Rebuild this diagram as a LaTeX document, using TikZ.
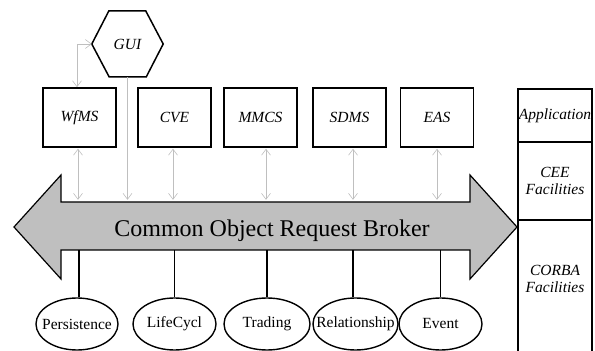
\documentclass[tikz,border=0pt]{standalone}
\usepackage{fontspec}
\setmainfont{Liberation Serif}
\usetikzlibrary{shapes.geometric,arrows.meta}
\newcommand{\lblfont}{\fontsize{15.5}{17}\selectfont}
\begin{document}
\begin{tikzpicture}[x=1pt,y=1pt,
  appbox/.style={draw, line width=1.5pt, minimum width=73, minimum height=59, inner sep=0, font=\lblfont\itshape},
  cell/.style={draw, line width=1.5pt, minimum width=74, inner sep=0, font=\lblfont\itshape, align=center},
  svc/.style={draw, ellipse, line width=1.4pt, minimum height=52, inner sep=0, font=\lblfont},
  garrow/.style={draw=black!25, line width=0.6pt, {Straight Barb[length=6pt,width=9pt]}-{Straight Barb[length=6pt,width=9pt]}},
  garrowone/.style={draw=black!25, line width=0.6pt, -{Straight Barb[length=6pt,width=9pt]}},
  stem/.style={draw, line width=1.7pt},
  broker/.style={draw, line width=1.2pt, fill=black!25, line join=miter}
]
\useasboundingbox (0,0) rectangle (595,351);

% broker double arrow
\draw[broker] (14,124) -- (61,176) -- (61,149) -- (470,149) -- (470,176) -- (517,124)
  -- (470,72) -- (470,101) -- (61,101) -- (61,72) -- cycle;
\node[minimum width=409, minimum height=48, inner sep=0] (shaft) at (265.5,125) {};
\node[anchor=base, font=\fontsize{24}{28}\selectfont, inner sep=0] (brokertext) at (272,114) {Common Object Request Broker};

% GUI hexagon
\node[minimum width=71, minimum height=66, inner sep=0, font=\lblfont\itshape] (GUI) at (127.5,307) {GUI};
\draw[line width=1.5pt, line join=miter] (GUI.west) -- ++(17,33) -- ++(37,0) -- (GUI.east) -- ++(-17,-33) -- ++(-37,0) -- cycle;

% application boxes
\node[appbox] (WfMS) at (79.5,233.5) {WfMS};
\node[appbox] (CVE)  at (174.5,233.5) {CVE};
\node[appbox] (MMCS) at (260.5,233.5) {MMCS};
\node[appbox] (SDMS) at (349.5,233.5) {SDMS};
\node[appbox] (EAS)  at (437,233.5) {EAS};

% right column
\node[cell, minimum height=53] (app) at (555,235.5) {Application};
\node[cell, minimum height=78] (cee) at (555,170) {CEE\\Facilities};
\node[cell, minimum height=132] (corba) at (555,65) {};
\node[font=\lblfont\itshape, align=center, inner sep=0] (corbatext) at (555,72) {CORBA\\Facilities};

% services
\node[svc, minimum width=82] (pers)  at (77,27)    {\makebox[0pt]{Persistence}};
\node[svc, minimum width=83] (life)  at (174.5,27) {\makebox[0pt]{LifeCycl}};
\node[svc, minimum width=86] (trad)  at (267,27)   {\makebox[0pt]{Trading}};
\node[svc, minimum width=85] (rel)   at (355.5,27) {\makebox[0pt]{Relationship}};
\node[svc, minimum width=83] (event) at (440.5,27) {\makebox[0pt]{Event}};

% stems
\draw[stem] ([xshift=2]pers.north) -- ([xshift=2]pers.north |- shaft.south);
\draw[stem] (life.north) -- (life.north |- shaft.south);
\draw[stem] (trad.north) -- (trad.north |- shaft.south);
\draw[stem] ([xshift=-2.5]rel.north) -- ([xshift=-2.5]rel.north |- shaft.south);
\draw[stem] (event.north) -- (event.north |- shaft.south);

% gray connectors
\draw[garrow] (GUI.west) -| ([xshift=-2.5]WfMS.north);
\draw[garrowone, shorten >=2pt] (GUI.south) -- (GUI.south |- shaft.north);
\draw[garrow, shorten <=1pt, shorten >=2pt] ([xshift=-1.5]WfMS.south) -- ([xshift=-1.5]WfMS.south |- shaft.north);
\draw[garrow, shorten <=1pt, shorten >=2pt] ([xshift=-1.5]CVE.south) -- ([xshift=-1.5]CVE.south |- shaft.north);
\draw[garrow, shorten <=1pt, shorten >=2pt] ([xshift=5.5]MMCS.south) -- ([xshift=5.5]MMCS.south |- shaft.north);
\draw[garrow, shorten <=1pt, shorten >=2pt] ([xshift=3.5]SDMS.south) -- ([xshift=3.5]SDMS.south |- shaft.north);
\draw[garrow, shorten <=1pt, shorten >=2pt] (EAS.south) -- (EAS.south |- shaft.north);
\end{tikzpicture}
\end{document}
